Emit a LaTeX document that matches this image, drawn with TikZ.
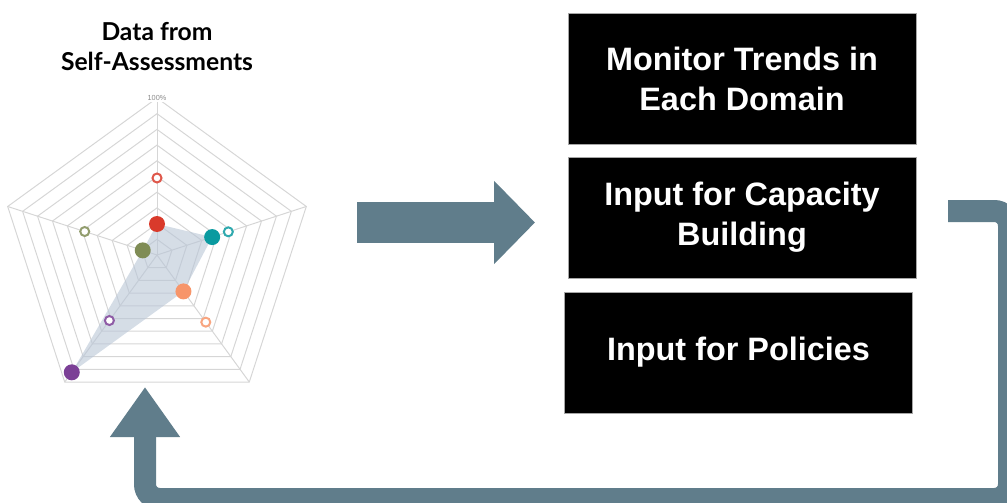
\documentclass[tikz,border=0pt]{standalone}
\usepackage{fontspec}
\setmainfont{Liberation Sans}
\newfontfamily\titlefont{Lato}
\usetikzlibrary{arrows.meta,positioning}
\definecolor{flowgray}{HTML}{607D8B}
\definecolor{gridgray}{HTML}{D6D6D6}
\definecolor{areablue}{HTML}{B9C6D6}
\definecolor{ptred}{HTML}{D93A2B}
\definecolor{ptteal}{HTML}{0A9AA0}
\definecolor{ptorange}{HTML}{F7956A}
\definecolor{ptpurple}{HTML}{7B3F96}
\definecolor{ptolive}{HTML}{7F8C55}
\tikzset{
    task/.style={
           rectangle,
           fill=black,
           draw=black!35, line width=0.75pt,
           minimum width=261pt,
           minimum height=90.75pt,
           inner sep=2pt,
           align=center,
           text=white,
           font=\fontsize{24.3}{30}\selectfont\bfseries,
           },
    grid line/.style={draw=gridgray, line width=0.75pt},
    filled pt/.style={fill=#1},
    open pt/.style={draw=#1, line width=1.5pt, fill=white},
}

\begin{document}
\begin{tikzpicture}[x=0.75pt,y=-0.75pt]
  \useasboundingbox (0,0) rectangle (1007,503);

  % radar chart
  \coordinate (chart) at (157,255);
  \node (title) at (157,47) [align=center,
        font=\titlefont\fontsize{18.5}{22.5}\selectfont\bfseries]
        {Data from\\Self-Assessments};
  \begin{scope}[shift={(chart)}, y=0.75pt]
    \foreach \k in {1,...,10}
      \draw[grid line] (90:\k*15.7) -- (18:\k*15.7) -- (-54:\k*15.7)
                       -- (-126:\k*15.7) -- (162:\k*15.7) -- cycle;
    \foreach \a in {90,18,-54,-126,162}
      \draw[grid line] (0,0) -- (\a:157);
    \fill[areablue, fill opacity=0.6] (90:31) -- (18:58) -- (-54:45)
                       -- (-126:145) -- (162:15) -- cycle;
    \node (top) at (90:157) [fill=white, inner sep=1pt, text=black!45,
        font=\fontsize{5.5}{6}\selectfont] {100\%};
    \foreach \a/\f/\o/\c in {90/31/77/ptred, 18/58/75/ptteal,
                             -54/45/83/ptorange, -126/145/81/ptpurple,
                             162/15/76/ptolive} {
      \draw[open pt=\c!85] (\a:\o) circle (4.5);
      \fill[filled pt=\c] (\a:\f) circle (8);
    }
  \end{scope}

  % actions
  \node[task, minimum height=97.5pt] (trends) at (742,79)
        {Monitor Trends in\\Each Domain};
  \node[task] (capacity) at (742,217.5) {Input for Capacity\\Building};
  \node[task] (policies) at (738.5,352.5) {Input for Policies};

  % flows
  \coordinate (feed start) at (357,222.5);
  \coordinate (feed end) at (535,222.5);
  \draw[flowgray, line width=30.75pt,
        -{Triangle[length=30.75pt,width=60.75pt]}] (feed start) -- (feed end);

  \coordinate (loop start) at (948,211);
  \coordinate (loop end) at (145,387);
  \draw[flowgray, line width=16.5pt, rounded corners=11pt,
        -{Triangle[length=37.5pt,width=50pt]}]
        (loop start) -| (1009,499) -| (loop end);

\end{tikzpicture}
\end{document}
